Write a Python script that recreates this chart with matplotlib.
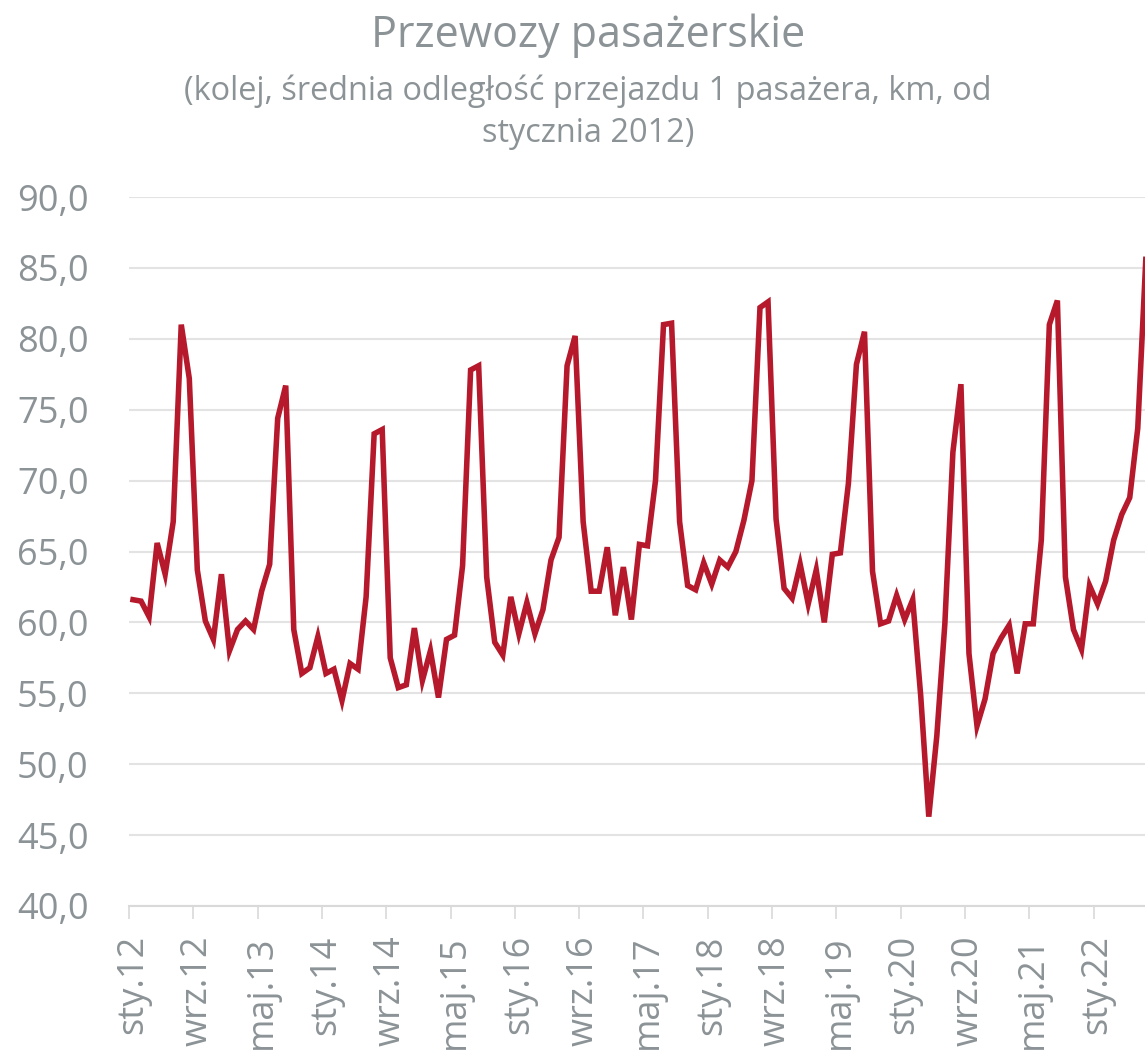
import matplotlib
matplotlib.use("Agg")
import matplotlib.pyplot as plt
import numpy as np

# monthly values, sty.12 .. lip.22
VALUES = [
    61.6, 61.5, 60.4, 65.6, 63.4, 67.1, 81.0, 77.2, 63.7, 60.1, 58.8, 63.4,
    58.0, 59.5, 60.1, 59.5, 62.2, 64.1, 74.4, 76.7, 59.5, 56.4, 56.8, 59.0,
    56.4, 56.7, 54.5, 57.1, 56.7, 61.8, 73.3, 73.6, 57.5, 55.4, 55.6, 59.6,
    55.9, 58.0, 54.7, 58.8, 59.1, 64.0, 77.8, 78.1, 63.2, 58.6, 57.7, 61.8,
    59.2, 61.4, 59.2, 60.9, 64.4, 66.0, 78.1, 80.2, 67.1, 62.2, 62.2, 65.3,
    60.5, 63.9, 60.2, 65.5, 65.4, 70.0, 81.0, 81.1, 67.1, 62.6, 62.3, 64.2,
    62.7, 64.4, 63.9, 65.0, 67.2, 70.0, 82.2, 82.6, 67.3, 62.4, 61.7, 64.1,
    61.3, 63.7, 60.0, 64.8, 64.9, 69.8, 78.2, 80.5, 63.6, 59.9, 60.1, 61.9,
    60.2, 61.6, 54.8, 46.3, 52.0, 59.9, 72.0, 76.8, 57.8, 52.7, 54.6, 57.8,
    58.9, 59.8, 56.4, 59.9, 59.9, 65.8, 81.0, 82.7, 63.2, 59.5, 58.1, 62.6,
    61.3, 62.9, 65.8, 67.6, 68.8, 73.7, 85.6,
]
TICK_LABELS = ["sty.12", "wrz.12", "maj.13", "sty.14", "wrz.14", "maj.15",
               "sty.16", "wrz.16", "maj.17", "sty.18", "wrz.18", "maj.19",
               "sty.20", "wrz.20", "maj.21", "sty.22"]
TICK_STEP = 8
Y_TICKS = [40, 45, 50, 55, 60, 65, 70, 75, 80, 85, 90]

TITLE = "Przewozy pasażerskie"
SUB1 = "(kolej, średnia odległość przejazdu 1 pasażera, km, od"
SUB2 = "stycznia 2012)"

TXT = "#8c9396"
GRID = "#e3e3e3"
LINE = "#b5192b"

plt.rcParams["font.family"] = ["Open Sans", "DejaVu Sans"]

W, H = 1145, 1050
fig = plt.figure(figsize=(W / 100, H / 100), dpi=100)
ax = fig.add_axes([129 / W, (H - 906) / H, 1 - 129 / W, (906 - 197) / H])

x = np.arange(len(VALUES))
ax.plot(x, VALUES, color=LINE, lw=4.0, solid_joinstyle="miter", clip_on=False, zorder=3)

ax.set_ylim(40, 90)
ax.set_xlim(-0.5, 125.9)
ax.set_yticks(Y_TICKS)
ax.set_yticklabels([f"{v:.1f}".replace(".", ",") for v in Y_TICKS])
ax.grid(axis="y", color=GRID, lw=1.5)
ax.set_axisbelow(True)

tpos = np.arange(len(TICK_LABELS)) * TICK_STEP
ax.set_xticks(tpos)
ax.set_xticklabels(TICK_LABELS, rotation=90)
ax.set_xticks(tpos - 0.5, minor=True)
ax.tick_params(axis="x", which="major", length=0, pad=21, labelsize=26, labelcolor=TXT)
ax.tick_params(axis="x", which="minor", length=9.5, width=1.2, color="#d9d9d9")
ax.tick_params(axis="y", length=0, pad=29, labelsize=26, labelcolor=TXT)

for s in ("top", "right", "left"):
    ax.spines[s].set_visible(False)
ax.spines["bottom"].set_color("#d9d9d9")
ax.spines["bottom"].set_linewidth(1.5)

fig.text(588 / W, 1 - 47 / H, TITLE, ha="center", va="baseline", fontsize=31, color=TXT)
fig.text(588 / W, 1 - 100 / H, SUB1, ha="center", va="baseline", fontsize=23.4, color=TXT)
fig.text(588 / W, 1 - 142 / H, SUB2, ha="center", va="baseline", fontsize=23.4, color=TXT)

fig.savefig("out.png", dpi=100)
